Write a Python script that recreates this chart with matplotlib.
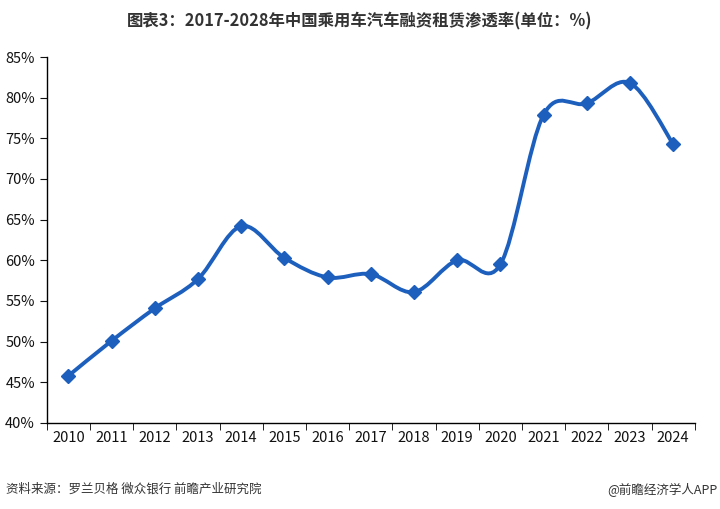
import matplotlib
matplotlib.use("Agg")
import matplotlib.pyplot as plt
from matplotlib.path import Path
from matplotlib.patches import PathPatch
from matplotlib.ticker import FixedLocator, PercentFormatter

plt.rcParams["font.family"] = ["Noto Sans CJK SC", "DejaVu Sans"]

years = ["2010", "2011", "2012", "2013", "2014", "2015", "2016", "2017",
         "2018", "2019", "2020", "2021", "2022", "2023", "2024"]
rate = [45.8, 50.1, 54.1, 57.7, 64.2, 60.3, 57.9, 58.3,
        56.1, 60.0, 59.5, 77.9, 79.3, 81.8, 74.3]

title = "图表3：2017-2028年中国乘用车汽车融资租赁渗透率(单位：%)"
source = "资料来源：罗兰贝格 微众银行 前瞻产业研究院"
credit = "@前瞻经济学人APP"
blue = "#1d5fbd"

fig = plt.figure(figsize=(7.2, 5.09), dpi=100)
ax = fig.add_axes([0.065, 0.169, 0.900, 0.719])

# smoothed line as cubic bezier segments (Catmull-Rom style control points)
xs = list(range(len(rate)))
verts = [(xs[0], rate[0])]
codes = [Path.MOVETO]
n = len(rate)
for i in range(n - 1):
    p0 = (xs[max(i - 1, 0)], rate[max(i - 1, 0)])
    p1 = (xs[i], rate[i])
    p2 = (xs[i + 1], rate[i + 1])
    p3 = (xs[min(i + 2, n - 1)], rate[min(i + 2, n - 1)])
    c1 = (p1[0] + (p2[0] - p0[0]) / 6, p1[1] + (p2[1] - p0[1]) / 6)
    c2 = (p2[0] - (p3[0] - p1[0]) / 6, p2[1] - (p3[1] - p1[1]) / 6)
    verts += [c1, c2, p2]
    codes += [Path.CURVE4] * 3
ax.add_patch(PathPatch(Path(verts, codes), facecolor="none", edgecolor=blue,
                       linewidth=2.8, capstyle="round", joinstyle="round"))
ax.plot(xs, rate, linestyle="none", marker="D", markersize=7, color=blue)

ax.set_xlim(-0.5, len(years) - 0.5)
ax.set_ylim(40, 85)
ax.set_yticks(range(40, 90, 5))
ax.yaxis.set_major_formatter(PercentFormatter(decimals=0))
ax.set_xticks(xs, years)
ax.xaxis.set_minor_locator(FixedLocator([i - 0.5 for i in range(len(years) + 1)]))
ax.tick_params(axis="x", which="major", length=0, pad=6, labelsize=10.5, colors="#111111")
ax.tick_params(axis="x", which="minor", length=5, direction="out")
ax.tick_params(axis="y", length=5, direction="out", labelsize=10.5, colors="#111111")
for side in ("top", "right"):
    ax.spines[side].set_visible(False)
for side in ("left", "bottom"):
    ax.spines[side].set_linewidth(1.0)

fig.text(0.5, 0.957, title, ha="center", va="center", fontsize=11.8, fontweight="bold", color="#333333")
fig.text(0.008, 0.038, source, ha="left", va="center", fontsize=9, color="#333333")
fig.text(0.997, 0.038, credit, ha="right", va="center", fontsize=9, color="#333333")

fig.savefig("out.png", dpi=100)
